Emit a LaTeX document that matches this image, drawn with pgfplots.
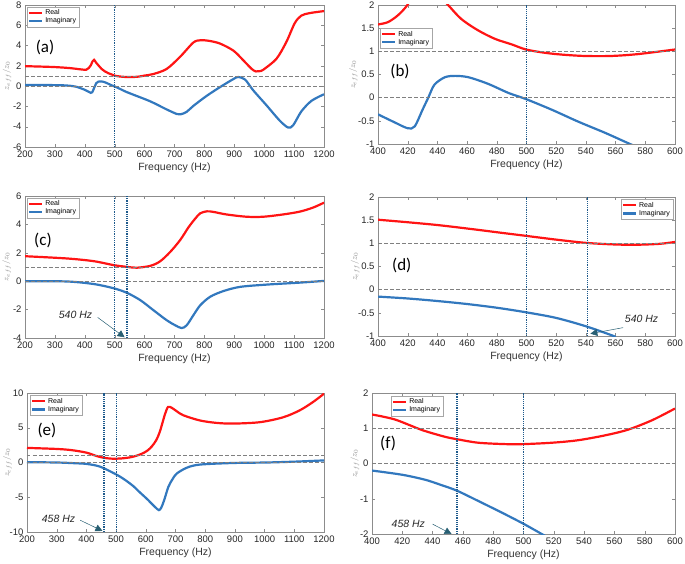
\documentclass[border=0pt]{standalone}
\usepackage{pgfplots}
\pgfplotsset{compat=1.18}
\usepackage{fontspec}
\setmainfont{Liberation Sans}
\newfontfamily\calibri{Carlito}
\usetikzlibrary{arrows.meta}
\definecolor{cred}{RGB}{255,20,20}
\definecolor{cblue}{RGB}{50,120,190}
\definecolor{vline}{RGB}{30,90,140}
\definecolor{annot}{RGB}{40,95,115}
\pgfplotsset{
  panel/.style={
    scale only axis,
    axis line style={draw=black!45},
    tick style={draw=black!45, line width=0.4pt},
    major tick length=3pt,
    tick align=inside,
    tick label style={font=\fontsize{9.5}{10}\selectfont, text=black!85},
    /pgf/number format/assume math mode=true,
    /pgf/number format/fixed,
    /pgf/number format/1000 sep={},
    xlabel={Frequency (Hz)},
    xlabel style={font=\fontsize{10.5}{12}\selectfont, text=black!80, at={(axis description cs:0.5,0)}, anchor=center, yshift=-20.5pt},
    ylabel={$z_{eff}/z_0$},
    legend style={font=\fontsize{7}{8}\selectfont, draw=black!35, inner sep=0.8pt, row sep=-2.5pt, cells={anchor=west}},
    legend image code/.code={\draw[#1, line width=2.2pt] (0pt,0pt) -- (13pt,0pt);},
    clip=true,
  },
  yl/.style={ylabel style={font=\fontsize{8}{9}\selectfont, text=black!45, at={(axis description cs:#1,0.5)}, anchor=center}},
  re/.style={cred, line width=2.2pt, smooth},
  im/.style={cblue, line width=2.2pt, smooth},
  vl/.style={vline, line width=1.5pt, dash pattern=on 1.2pt off 1pt, forget plot},
  hl/.style={black!50, line width=0.6pt, dash pattern=on 3.5pt off 2.5pt, forget plot},
}
\tikzset{arr/.style={annot, line width=0.5pt, -{Triangle[width=7pt,length=7pt]}},
  atext/.style={font=\itshape\fontsize{10.5}{12}\selectfont, text=black!85},
  plab/.style={font=\calibri\fontsize{17}{18}\selectfont, anchor=center}}
\begin{document}
\begin{tikzpicture}
\useasboundingbox (0,0) rectangle (685pt,563pt);
% (a)
\begin{axis}[panel, yl=-0.06, at={(25pt,416pt)}, anchor=south west, width=299pt, height=142pt,
  xmin=200, xmax=1200, ymin=-6, ymax=8, xtick={200,300,...,1200}, ytick={-6,-4,...,8},
  legend style={at={(0.007,0.988)}, anchor=north west}]
\addplot[re] coordinates {(200,1.97) (250,1.93) (300,1.88) (350,1.78) (390,1.64) (405,1.62) (413,1.78) (420,2.05) (426,2.45) (431,2.6) (437,2.35) (447,2.0) (456,1.7) (467,1.46) (479,1.27) (490,1.15) (500,1.03) (512,0.97) (524,0.93) (540,0.9) (560,0.9) (580,0.94) (600,1.04) (630,1.2) (674,1.7) (719,2.9) (763,4.3) (786,4.52) (813,4.48) (852,4.2) (897,3.5) (930,2.55) (958,1.7) (972,1.45) (985,1.48) (997,1.62) (1041,2.7) (1074,4.35) (1102,6.2) (1124,6.95) (1152,7.2) (1200,7.4)};
\addplot[im] coordinates {(200,0.12) (300,0.1) (341,0.06) (370,-0.05) (400,-0.36) (411,-0.53) (420,-0.66) (425,-0.6) (430,-0.26) (434,0.01) (438,0.28) (445,0.44) (452,0.47) (461,0.44) (474,0.3) (488,0.1) (500,-0.03) (517,-0.26) (535,-0.52) (563,-0.85) (619,-1.5) (674,-2.3) (708,-2.75) (720,-2.78) (740,-2.55) (763,-1.95) (808,-0.95) (852,-0.1) (897,0.7) (913,0.9) (936,0.65) (963,-0.4) (1008,-1.9) (1052,-3.4) (1080,-4.08) (1097,-3.85) (1124,-2.5) (1158,-1.45) (1200,-0.8)};
\legend{Real,Imaginary}
\addplot[hl] coordinates {(200,1) (1200,1)};
\addplot[hl] coordinates {(200,0) (1200,0)};
\addplot[vl] coordinates {(500,-6) (500,8)};
\node[plab] at (rel axis cs:0.067,0.70) {(a)};
\end{axis}
% (b)
\begin{axis}[panel, yl=-0.083, at={(378pt,419pt)}, anchor=south west, width=297pt, height=139pt,
  xmin=400, xmax=600, ymin=-1, ymax=2, xtick={400,420,...,600}, ytick={-1,-0.5,...,2},
  legend style={at={(0.007,0.835)}, anchor=north west}]
\addplot[re] coordinates {(400,1.58) (406.7,1.63) (413.5,1.78) (419.8,2.0) (425,2.3) (431,2.6) (437,2.35) (447.2,2.0) (456,1.7) (467,1.46) (478.7,1.27) (490,1.15) (499.6,1.04) (512,0.97) (523.6,0.93) (539,0.9) (557,0.9) (575,0.94) (600,1.04)};
\addplot[im] coordinates {(400,-0.36) (411,-0.53) (420,-0.66) (424.7,-0.62) (430,-0.26) (434,0.01) (438,0.28) (445,0.44) (452,0.47) (461,0.44) (474,0.3) (488,0.1) (499.6,-0.03) (517,-0.26) (535,-0.52) (553,-0.76) (569.7,-1.0) (575,-1.07)};
\legend{Real,Imaginary}
\addplot[hl] coordinates {(400,1) (600,1)};
\addplot[hl] coordinates {(400,0) (600,0)};
\addplot[vl] coordinates {(500,-1) (500,2)};
\node[plab] at (rel axis cs:0.074,0.52) {(b)};
\end{axis}
% (c)
\begin{axis}[panel, yl=-0.061, at={(25pt,225pt)}, anchor=south west, width=299pt, height=142pt,
  xmin=200, xmax=1200, ymin=-4, ymax=6, xtick={200,300,...,1200}, ytick={-4,-2,...,6},
  legend style={at={(0.007,0.988)}, anchor=north west}]
\addplot[re] coordinates {(200,1.76) (341,1.6) (430,1.41) (497,1.13) (541,1.01) (574,0.95) (619,1.08) (652,1.4) (686,2.07) (719,2.9) (747,3.8) (769,4.4) (786,4.78) (808,4.92) (830,4.88) (874,4.7) (941,4.54) (997,4.54) (1063,4.7) (1119,4.9) (1163,5.18) (1200,5.53)};
\addplot[im] coordinates {(200,0.0) (341,-0.02) (430,-0.2) (497,-0.5) (541,-0.82) (586,-1.34) (630,-2.05) (674,-2.75) (702,-3.1) (724,-3.3) (741,-3.1) (763,-2.4) (786,-1.7) (819,-1.1) (863,-0.7) (919,-0.4) (1008,-0.24) (1119,-0.1) (1200,0.02)};
\legend{Real,Imaginary}
\addplot[hl] coordinates {(200,1) (1200,1)};
\addplot[hl] coordinates {(200,0) (1200,0)};
\addplot[vl] coordinates {(500,-4) (500,6)};
\addplot[vl] coordinates {(541,-4) (541,6)};
\node[plab] at (rel axis cs:0.06,0.69) {(c)};
\draw[arr] (axis cs:443,-2.55) -- (axis cs:533,-3.95);
\node[atext] at (axis cs:369,-2.4) {540 Hz};
\end{axis}
% (d)
\begin{axis}[panel, yl=-0.077, at={(378pt,227pt)}, anchor=south west, width=297pt, height=139pt,
  xmin=400, xmax=600, ymin=-1, ymax=2, xtick={400,420,...,600}, ytick={-1,-0.5,...,2},
  legend style={at={(0.993,0.985)}, anchor=north east}]
\addplot[re] coordinates {(400,1.51) (420,1.455) (440,1.395) (460,1.32) (480,1.24) (500,1.16) (520,1.08) (540,1.01) (560,0.975) (575,0.97) (590,0.99) (600,1.03)};
\addplot[im] coordinates {(400,-0.15) (420,-0.19) (440,-0.245) (460,-0.31) (480,-0.39) (500,-0.49) (520,-0.61) (540,-0.79) (557,-0.98) (560,-1.02)};
\legend{Real,Imaginary}
\addplot[hl] coordinates {(400,1) (600,1)};
\addplot[hl] coordinates {(400,0) (600,0)};
\addplot[vl] coordinates {(500,-1) (500,2)};
\addplot[vl] coordinates {(541,-1) (541,2)};
\node[plab] at (rel axis cs:0.08,0.51) {(d)};
\draw[arr] (axis cs:565,-0.82) -- (axis cs:543,-0.95);
\node[atext] at (axis cs:577.5,-0.62) {540 Hz};
\end{axis}
% (e)
\begin{axis}[panel, yl=-0.066, at={(27pt,31pt)}, anchor=south west, width=297pt, height=139pt,
  xmin=200, xmax=1200, ymin=-10, ymax=10, xtick={200,300,...,1200}, ytick={-10,-5,...,10},
  legend style={at={(0.01,0.985)}, anchor=north west}]
\addplot[re] coordinates {(200,2.1) (300,1.95) (350,1.78) (400,1.42) (433,0.95) (458,0.68) (488,0.55) (519,0.59) (554,0.8) (585,1.23) (605,1.7) (620,2.3) (635,3.2) (647,4.4) (656,5.7) (665,7.0) (675,8.0) (688,7.85) (705,7.35) (726,6.8) (782,6.05) (838,5.7) (894,5.6) (984,5.8) (1062,6.5) (1118,7.5) (1163,8.7) (1200,9.9)};
\addplot[im] coordinates {(200,0.05) (300,0.0) (360,-0.1) (400,-0.2) (435,-0.46) (456,-0.77) (486,-1.4) (512,-2.0) (535,-2.65) (558,-3.4) (580,-4.3) (603,-5.2) (631,-6.4) (644,-6.85) (652,-6.5) (662,-5.4) (676,-3.5) (690,-2.4) (704,-1.6) (738,-0.75) (782,-0.3) (894,-0.07) (1006,0.0) (1100,0.12) (1200,0.3)};
\legend{Real,Imaginary}
\addplot[hl] coordinates {(200,1) (1200,1)};
\addplot[hl] coordinates {(200,0) (1200,0)};
\addplot[vl] coordinates {(460,-10) (460,10)};
\addplot[vl] coordinates {(502,-10) (502,10)};
\node[plab] at (rel axis cs:0.067,0.73) {(e)};
\draw[arr] (axis cs:379,-8.3) -- (axis cs:454,-9.85);
\node[atext] at (axis cs:306,-8.1) {458 Hz};
\end{axis}
% (f)
\begin{axis}[panel, yl=-0.056, at={(372pt,29pt)}, anchor=south west, width=303pt, height=141pt,
  xmin=400, xmax=600, ymin=-2, ymax=2, xtick={400,420,...,600}, ytick={-2,-1,...,2},
  legend style={at={(0.063,0.98)}, anchor=north west}]
\addplot[re] coordinates {(400,1.39) (415,1.25) (433,0.95) (448,0.76) (456,0.69) (470,0.59) (488,0.55) (500,0.55) (519,0.59) (536,0.66) (554,0.8) (569,0.96) (585,1.23) (600,1.56)};
\addplot[im] coordinates {(400,-0.2) (420,-0.32) (435,-0.46) (445,-0.6) (456,-0.77) (470,-1.06) (486,-1.4) (500,-1.71) (512,-2.0) (516,-2.1)};
\legend{Real,Imaginary}
\addplot[hl] coordinates {(400,1) (600,1)};
\addplot[hl] coordinates {(400,0) (600,0)};
\addplot[vl] coordinates {(456,-2) (456,2)};
\addplot[vl] coordinates {(500,-2) (500,2)};
\node[plab] at (rel axis cs:0.053,0.64) {(f)};
\draw[arr] (axis cs:440,-1.72) -- (axis cs:452.5,-2.0);
\node[atext] at (axis cs:424,-1.71) {458 Hz};
\end{axis}
\end{tikzpicture}
\end{document}
